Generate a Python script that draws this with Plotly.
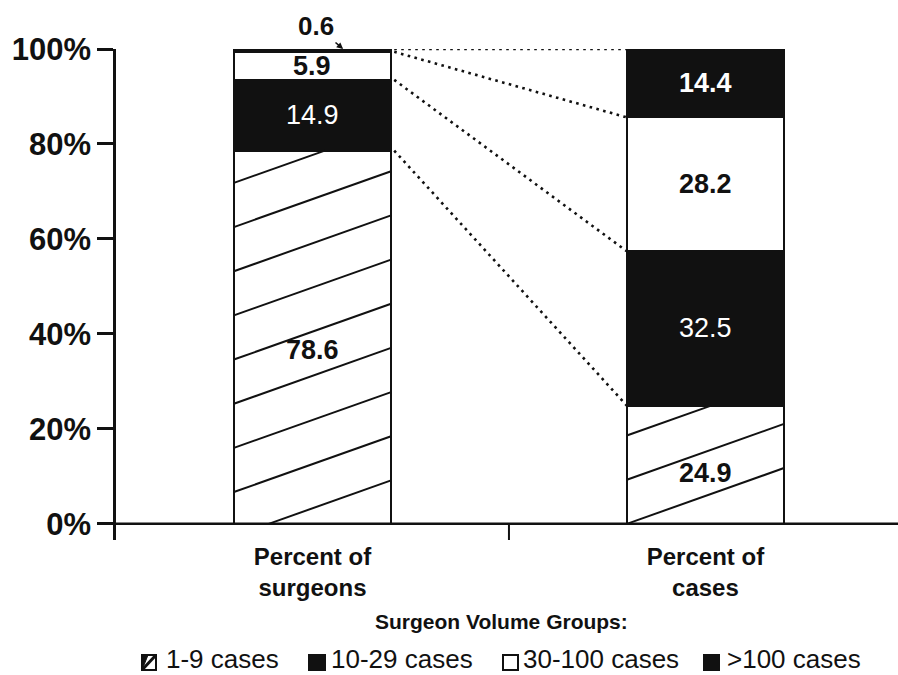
import plotly.graph_objects as go

# ---- data -------------------------------------------------------------
bar_labels = ["Percent of<br>surgeons", "Percent of<br>cases"]
groups = ["1-9 cases", "10-29 cases", "30-100 cases", ">100 cases"]
pct_surgeons = [78.6, 14.9, 5.9, 0.6]
pct_cases = [24.9, 32.5, 28.2, 14.4]
y_ticks = [0, 20, 40, 60, 80, 100]
y_tick_text = ["0%", "20%", "40%", "60%", "80%", "100%"]

# ---- geometry ---------------------------------------------------------
W, H = 898, 675
M_L, M_R, M_T, M_B = 116, 0, 49, 135
X_RANGE = [-0.5, 1.49]
Y_RANGE = [-3.4, 100]
BAR_W = 0.4
INK = "#111111"
FONT = "Liberation Sans, Arial, Helvetica, sans-serif"

plot_w = W - M_L - M_R
plot_h = H - M_T - M_B
px_per_x = plot_w / (X_RANGE[1] - X_RANGE[0])
px_per_y = plot_h / (Y_RANGE[1] - Y_RANGE[0])


def paper_x(px):
    return (px - M_L) / plot_w


def paper_y(py):
    return (H - M_B - py) / plot_h


fills = ["white", INK, "white", INK]
series = [list(v) for v in zip(pct_surgeons, pct_cases)]

fig = go.Figure()
for name, vals, fill in zip(groups, series, fills):
    fig.add_trace(go.Bar(
        x=[0, 1], y=vals, name=name, width=BAR_W,
        marker=dict(color=fill, line=dict(color=INK, width=2)),
        hoverinfo="skip", showlegend=False,
    ))

# ---- diagonal hatching of the "1-9 cases" segments -------------------
slope = 0.355 * px_per_x / px_per_y          # shallow rising lines
hatch_spacing = 9.3
hatch_phase = [-2.6, 0.0]
hx, hy = [], []
for i, top in enumerate(series[0]):
    xl, xr = i - BAR_W / 2, i + BAR_W / 2
    k = 0
    while True:
        c = hatch_phase[i] + k * hatch_spacing
        if c >= top:
            break
        xa = max(xl, xl + (0 - c) / slope)
        xb = min(xr, xl + (top - c) / slope)
        if xb > xa:
            hx += [xa, xb, None]
            hy += [c + slope * (xa - xl), c + slope * (xb - xl), None]
        k += 1
fig.add_trace(go.Scatter(x=hx, y=hy, mode="lines",
                         line=dict(color=INK, width=2),
                         hoverinfo="skip", showlegend=False))

# ---- dotted connectors between segment boundaries ---------------------
def cumulative(v):
    out, s = [], 0
    for x in v:
        s += x
        out.append(s)
    return out


cum_s = cumulative(pct_surgeons)
cum_c = cumulative(pct_cases)
for a, b in zip(cum_s, cum_c):
    fig.add_trace(go.Scatter(
        x=[BAR_W / 2 + 0.008, 1 - BAR_W / 2], y=[min(a, 100), min(b, 100)],
        mode="lines", line=dict(color=INK, width=2.6, dash="2.6px,4.4px"),
        hoverinfo="skip", showlegend=False))

# ---- value labels -----------------------------------------------------
label_style = {
    (0, 0): ("bold", INK), (0, 1): ("normal", "white"), (0, 2): ("bold", INK),
    (1, 0): ("bold", INK), (1, 1): ("normal", "white"), (1, 2): ("bold", INK),
    (1, 3): ("bold", "white"),
}
label_frac = {(0, 0): 0.466, (1, 0): 0.43}
for bi, vals in enumerate([pct_surgeons, pct_cases]):
    base = 0
    for si, v in enumerate(vals):
        if (bi, si) in label_style:
            weight, color = label_style[(bi, si)]
            fig.add_annotation(
                x=bi, y=base + label_frac.get((bi, si), 0.5) * v,
                text=f"{v}", showarrow=False,
                font=dict(family=FONT, size=27, color=color, weight=weight))
        base += v

# the thin top segment is labelled above the bar with a pointer
fig.add_annotation(
    x=0.078, y=100, text=f"{pct_surgeons[3]}", showarrow=True,
    ax=-27, ay=-23, arrowhead=2, arrowsize=0.8, arrowwidth=1.6,
    arrowcolor=INK, standoff=0,
    font=dict(family=FONT, size=26, color=INK, weight="bold"))

# ---- axis extras: baseline at 0 and the tick between the bars --------
fig.add_shape(type="line", xref="paper", yref="y", x0=0, x1=1, y0=0, y1=0,
              line=dict(color=INK, width=2.5))
fig.add_shape(type="line", xref="x", yref="y", x0=0.5, x1=0.5,
              y0=0, y1=Y_RANGE[0], line=dict(color=INK, width=2))

# ---- legend -----------------------------------------------------------
fig.add_annotation(xref="paper", yref="paper", x=paper_x(501), y=paper_y(621),
                   xanchor="center", yanchor="middle",
                   text="Surgeon Volume Groups:", showarrow=False,
                   font=dict(family=FONT, size=21, color=INK, weight="bold"))

legend_items = [
    # (symbol box x0, x1, text x)
    (142, 156, 165),
    (309, 325, 330),
    (503, 518, 522),
    (704, 719, 726),
]
sym_fill = ["white", INK, "white", INK]
for (sx0, sx1, tx), name, fill in zip(legend_items, groups, sym_fill):
    y0, y1 = paper_y(670), paper_y(655)
    fig.add_shape(type="rect", xref="paper", yref="paper",
                  x0=paper_x(sx0), x1=paper_x(sx1), y0=y0, y1=y1,
                  fillcolor=fill, line=dict(color=INK, width=2))
    if name == groups[0]:
        fig.add_shape(type="line", xref="paper", yref="paper",
                      x0=paper_x(sx0), x1=paper_x(sx1),
                      y0=y0, y1=y1, line=dict(color=INK, width=3))
        fig.add_shape(type="path", xref="paper", yref="paper",
                      path=(f"M {paper_x(sx0)},{y0} L {paper_x(sx0)},{y1} "
                            f"L {paper_x(sx0 + 6)},{y1} Z"),
                      fillcolor=INK, line=dict(color=INK, width=1))
    fig.add_annotation(xref="paper", yref="paper", x=paper_x(tx),
                       y=paper_y(659), xanchor="left", yanchor="middle",
                       text=name, showarrow=False, borderpad=0,
                       font=dict(family=FONT, size=26, color=INK))

fig.update_layout(
    width=W, height=H, barmode="stack",
    margin=dict(l=M_L, r=M_R, t=M_T, b=M_B, autoexpand=False),
    paper_bgcolor="white", plot_bgcolor="white",
    showlegend=False,
    xaxis=dict(range=X_RANGE, tickvals=[0, 1], ticktext=bar_labels,
               ticks="", showline=False, showgrid=False, zeroline=False,
               tickfont=dict(family=FONT, size=24, color=INK, weight="bold"),
               fixedrange=True),
    yaxis=dict(range=Y_RANGE, tickvals=y_ticks, ticktext=y_tick_text,
               ticks="outside", ticklen=16, tickwidth=2.5, tickcolor=INK,
               showline=True, linecolor=INK, linewidth=2.5,
               showgrid=False, zeroline=False,
               tickfont=dict(family=FONT, size=31, color=INK, weight="bold"),
               fixedrange=True),
)

fig.write_html("out.html")
